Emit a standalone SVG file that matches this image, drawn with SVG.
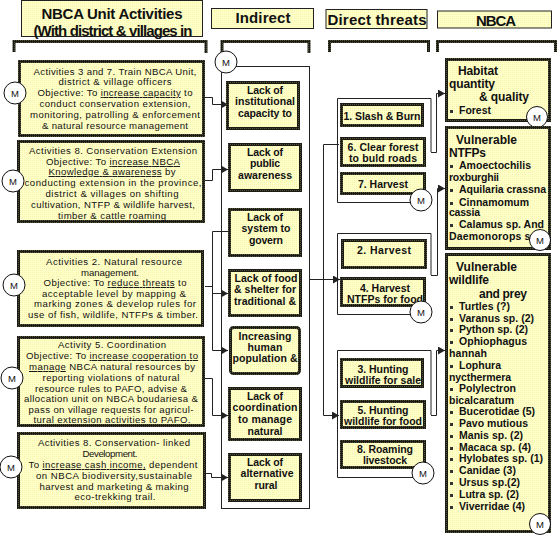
<svg xmlns="http://www.w3.org/2000/svg" width="557" height="541" viewBox="0 0 557 541">
<style>
text{font-family:"Liberation Sans",Arial,sans-serif;fill:#111}
.a{font-size:9.6px;text-anchor:middle}
.b{font-size:10.5px;font-weight:bold;text-anchor:middle}
.h{font-size:15px;font-weight:bold;text-anchor:middle}
.r{font-size:10.5px;font-weight:bold}
.t{font-size:12px;font-weight:bold}
.m{font-size:9.5px;text-anchor:middle}
.u{text-decoration:underline}
.box{fill:url(#y);stroke:url(#k);stroke-width:3}
.hd{fill:url(#y);stroke:#222;stroke-width:1}
.br{fill:none;stroke:url(#k);stroke-width:3}
.fr{fill:#fff;stroke:#222;stroke-width:1}
.c{fill:none;stroke:#222;stroke-width:1}
.cir{fill:#fff;stroke:#111;stroke-width:1}
.bl{fill:#333}
</style>
<defs>
<pattern id="y" width="2" height="2" patternUnits="userSpaceOnUse"><rect width="2" height="2" fill="#ffffc8"/><rect width="1" height="1" fill="#f8f4b0"/></pattern>
<pattern id="k" width="2" height="2" patternUnits="userSpaceOnUse"><rect width="2" height="2" fill="#1c1c14"/><rect width="1" height="1" fill="#55553c"/></pattern>
<marker id="ar" markerUnits="userSpaceOnUse" markerWidth="8" markerHeight="8" refX="7" refY="4" orient="auto"><path d="M0 0L7 4L0 8Z" fill="#222"/></marker>
</defs>
<rect width="557" height="541" fill="#fff"/>

<g id="headers">
<g id="h1"><rect class="hd" x="21.5" y="0.5" width="181" height="36"/><text class="h" x="112" y="19" textLength="141">NBCA Unit Activities</text><text class="h" x="113" y="36" textLength="159">(With district &amp; villages in</text></g>
<g id="h2"><rect class="hd" x="211.5" y="8.5" width="102" height="20"/><text class="h" x="263" y="23" textLength="55">Indirect</text></g>
<g id="h3"><rect class="hd" x="326" y="9.5" width="101" height="19"/><text class="h" x="377" y="25" textLength="99">Direct threats</text></g>
<g id="h4"><rect class="hd" x="437.5" y="11" width="114" height="17"/><text class="h" x="496" y="26" textLength="40">NBCA</text></g>
<path class="br" d="M14 52V41.500H206V53"/>
<path class="br" d="M222 53V41.500H309V53"/>
<path class="br" d="M329.500 52V41.500H428.500V52"/>
<path class="br" d="M437.500 52V41.500H555.500V52"/>
</g>

<g id="frames">
<rect class="fr" x="221.500" y="66.500" width="88" height="442"/>
<path class="fr" d="M431 152V98.500H337.500V202.500H431" style="fill:#fff"/>
<path class="fr" d="M431 275V233.500H337.500V314.500H431" style="fill:#fff"/>
<path class="fr" d="M431 415V350.500H337.500V477.500H431" style="fill:#fff"/>
</g>

<g id="connectors">
<path class="c" d="M205 97.500H212.500V104.500H228" marker-end="url(#ar)"/>
<path class="c" d="M205 180.500H212.500V169.500H228" marker-end="url(#ar)"/>
<path class="c" d="M205 286.500H212.500"/>
<path class="c" d="M228 231.500H212.500V350.500H228" marker-end="url(#ar)"/>
<path class="c" d="M212.500 293.500H228" marker-end="url(#ar)"/>
<path class="c" d="M205 378.500H212.500V415.500H228" marker-end="url(#ar)"/>
<path class="c" d="M205 473.500H211.500V477.500H228" marker-end="url(#ar)"/>
<path class="c" d="M310 279.500H340" marker-end="url(#ar)"/>
<path class="c" d="M339 144.500H323.500V415.500H339" marker-end="url(#ar)"/>
<path class="c" d="M431 152.500H436.500V93.500H445" marker-end="url(#ar)"/>
<path class="c" d="M431 275.500H437.500V188.500H445" marker-end="url(#ar)"/>
<path class="c" d="M431 415.500H436.500V350.500H445" marker-end="url(#ar)"/>
</g>

<g id="a1"><rect class="box" x="19.500" y="61.500" width="184" height="74"/>
<text class="a" x="115" y="74.500" textLength="163">Activities 3 and 7. Train NBCA Unit,</text>
<text class="a" x="115" y="85" textLength="113">district &amp; village officers</text>
<text class="a" x="115" y="96" textLength="155">Objective: To <tspan class="u">increase capacity</tspan> to</text>
<text class="a" x="115" y="107" textLength="151">conduct conservation extension,</text>
<text class="a" x="115" y="118" textLength="170">monitoring, patrolling &amp; enforcement</text>
<text class="a" x="115" y="129" textLength="146">&amp; natural resource management</text>
<circle class="cir" cx="15" cy="93" r="11"/><text class="m" x="15" y="97">M</text></g>

<g id="a2"><rect class="box" x="18.500" y="141.500" width="185" height="80"/>
<text class="a" x="113" y="154" textLength="168">Activities 8. Conservation Extension</text>
<text class="a" x="113" y="165" textLength="134">Objective: To <tspan class="u">increase NBCA</tspan></text>
<text class="a" x="112" y="175" textLength="127"><tspan class="u">Knowledge &amp; awareness</tspan> by</text>
<text class="a" x="113" y="186" textLength="177">conducting extension in the province,</text>
<text class="a" x="112" y="197" textLength="133">district &amp; villages on shifting</text>
<text class="a" x="113" y="208" textLength="164">cultivation, NTFP &amp; wildlife harvest,</text>
<text class="a" x="112" y="219" textLength="108">timber &amp; cattle roaming</text>
<circle class="cir" cx="13" cy="181" r="11"/><text class="m" x="13" y="185">M</text></g>

<g id="a3"><rect class="box" x="18.500" y="251.500" width="184" height="74"/>
<text class="a" x="114" y="265" textLength="136">Activities 2. Natural resource</text>
<text class="a" x="110" y="276" textLength="58">management.</text>
<text class="a" x="115" y="286" textLength="143">Objective: To <tspan class="u">reduce threats</tspan> to</text>
<text class="a" x="114" y="297" textLength="144">acceptable level by mapping &amp;</text>
<text class="a" x="115" y="307" textLength="162">marking zones &amp; develop rules for</text>
<text class="a" x="113" y="318" textLength="170">use of fish, wildlife, NTFPs &amp; timber.</text>
<circle class="cir" cx="14" cy="285" r="11"/><text class="m" x="14" y="289">M</text></g>

<g id="a4"><rect class="box" x="18.500" y="337.500" width="185" height="88"/>
<text class="a" x="112" y="348" textLength="108">Activity 5. Coordination</text>
<text class="a" x="112" y="359" textLength="172">Objective: To <tspan class="u">increase cooperation to</tspan></text>
<text class="a" x="112" y="370" textLength="166"><tspan class="u">manage</tspan> NBCA natural resources by</text>
<text class="a" x="111" y="381" textLength="137">reporting violations of natural</text>
<text class="a" x="111" y="391.500" textLength="152">resource rules to PAFO, advise &amp;</text>
<text class="a" x="111" y="402" textLength="174">allocation unit on NBCA boudariesa &amp;</text>
<text class="a" x="111" y="412.500" textLength="165">pass on village requests for agricul-</text>
<text class="a" x="112" y="423" textLength="157">tural extension activities to PAFO.</text>
<circle class="cir" cx="12" cy="378" r="11"/><text class="m" x="12" y="382">M</text></g>

<g id="a5"><rect class="box" x="18.500" y="433.500" width="186" height="74"/>
<text class="a" x="114" y="446" textLength="152">Activities 8. Conservation- linked</text>
<text class="a" x="110" y="457" textLength="55">Development.</text>
<text class="a" x="113" y="468" textLength="169">To <tspan class="u">increase cash income,</tspan> dependent</text>
<text class="a" x="114" y="479" textLength="156">on NBCA biodiversity,sustainable</text>
<text class="a" x="114" y="489.500" textLength="149">harvest and marketing &amp; making</text>
<text class="a" x="115" y="500" textLength="81">eco-trekking trail.</text>
<circle class="cir" cx="11" cy="467" r="11"/><text class="m" x="11" y="471">M</text></g>

<g id="indirect-m"><circle class="cir" cx="226" cy="62" r="11"/><text class="m" x="226" y="66">M</text></g>

<g id="i1"><rect class="box" x="227.500" y="82.500" width="71" height="46"/>
<text class="b" x="265" y="94" textLength="36">Lack of</text><text class="b" x="265" y="105" textLength="60">institutional</text><text class="b" x="265" y="117" textLength="54">capacity to</text></g>
<g id="i2"><rect class="box" x="229.500" y="144.500" width="71" height="46"/>
<text class="b" x="265" y="156" textLength="36">Lack of</text><text class="b" x="265" y="167" textLength="30">public</text><text class="b" x="265" y="179" textLength="54">awareness</text></g>
<g id="i3"><rect class="box" x="229.500" y="209.500" width="71" height="46"/>
<text class="b" x="265" y="221" textLength="36">Lack of</text><text class="b" x="266" y="232" textLength="49">system to</text><text class="b" x="266" y="244" textLength="34">govern</text></g>
<g id="i4"><rect class="box" x="229.500" y="270.500" width="71" height="45"/>
<text class="b" x="266" y="282" textLength="63">Lack of food</text><text class="b" x="265" y="293" textLength="62">&amp; shelter for</text><text class="b" x="265" y="305" textLength="62">traditional &amp;</text></g>
<g id="i5"><rect class="box" rx="3" x="230.500" y="327.500" width="69" height="46"/>
<text class="b" x="265" y="340" textLength="53">Increasing</text><text class="b" x="265" y="351" textLength="35">human</text><text class="b" x="265" y="362" textLength="65">population &amp;</text></g>
<g id="i6"><rect class="box" x="229.500" y="388.500" width="71" height="51"/>
<text class="b" x="265" y="400" textLength="36">Lack of</text><text class="b" x="265" y="411" textLength="65">coordination</text><text class="b" x="265" y="423" textLength="54">to manage</text><text class="b" x="265" y="435" textLength="35">natural</text></g>
<g id="i7"><rect class="box" x="229.500" y="454.500" width="71" height="46"/>
<text class="b" x="265" y="466" textLength="36">Lack of</text><text class="b" x="267" y="477" textLength="53">alternative</text><text class="b" x="266" y="489" textLength="23">rural</text></g>

<g id="d1"><rect class="box" x="341.500" y="104.500" width="81" height="21"/><text class="b" x="382" y="120" textLength="77">1. Slash &amp; Burn</text></g>
<g id="d6"><rect class="box" x="341.500" y="138.500" width="83" height="27"/><text class="b" x="383" y="151" textLength="71">6. Clear forest</text><text class="b" x="383" y="162" textLength="68">to buld roads</text></g>
<g id="d7"><rect class="box" x="341.500" y="173.500" width="83" height="20"/><text class="b" x="383" y="188" textLength="50">7. Harvest</text></g>
<g id="m1"><circle class="cir" cx="421" cy="200" r="11"/><text class="m" x="421" y="204">M</text></g>

<g id="d2"><rect class="box" x="342.500" y="240.500" width="83" height="27"/><text class="b" x="384" y="254" textLength="54">2. Harvest</text></g>
<g id="d4"><rect class="box" x="341.500" y="278.500" width="83" height="27"/><text class="b" x="385" y="292" textLength="50">4. Harvest</text><text class="b" x="385" y="303" textLength="76">NTFPs for food</text></g>
<g id="m2"><circle class="cir" cx="421" cy="312" r="11"/><text class="m" x="421" y="316">M</text></g>

<g id="d3"><rect class="box" x="341.500" y="359.500" width="81" height="27"/><text class="b" x="383" y="373" textLength="51">3. Hunting</text><text class="b" x="383" y="384" textLength="76">wildlife for sale</text></g>
<g id="d5"><rect class="box" x="341.500" y="401.500" width="83" height="26"/><text class="b" x="383" y="414" textLength="51">5. Hunting</text><text class="b" x="383" y="425" textLength="78">wildlife for food</text></g>
<g id="d8"><rect class="box" x="341.500" y="441.500" width="83" height="26"/><text class="b" x="385" y="453" textLength="56">8. Roaming</text><text class="b" x="385" y="464" textLength="44">livestock</text></g>
<g id="m3"><circle class="cir" cx="423" cy="473" r="11"/><text class="m" x="423" y="477">M</text></g>

<g id="t1"><rect class="box" x="446.500" y="59.500" width="103" height="61"/>
<text class="t" x="458" y="75" textLength="40">Habitat</text><text class="t" x="449" y="88" textLength="46">quantity</text><text class="t" x="479" y="101" textLength="50">&amp; quality</text>
<rect class="bl" x="450" y="110" width="3" height="3"/><text class="r" x="459" y="114" textLength="32">Forest</text>
<circle class="cir" cx="537" cy="117" r="10.500"/><text class="m" x="537" y="121">M</text></g>

<g id="t2"><rect class="box" x="446.500" y="127.500" width="103" height="121"/>
<text class="t" x="456" y="143.500" textLength="61">Vulnerable</text><text class="t" x="449" y="157" textLength="37">NTFPs</text>
<rect class="bl" x="450" y="165" width="3" height="3"/><text class="r" x="459" y="169" textLength="72">Amoectochilis</text>
<text class="r" x="449" y="181" textLength="50">roxburghii</text>
<rect class="bl" x="450" y="189" width="3" height="3"/><text class="r" x="459" y="193" textLength="87">Aquilaria crassna</text>
<rect class="bl" x="450" y="202" width="3" height="3"/><text class="r" x="459" y="206" textLength="70">Cinnamomum</text>
<text class="r" x="449" y="216" textLength="31">cassia</text>
<rect class="bl" x="450" y="224" width="3" height="3"/><text class="r" x="459" y="228" textLength="85">Calamus sp. And</text>
<text class="r" x="449" y="240" textLength="88">Daemonorops sp</text>
<circle class="cir" cx="540" cy="240" r="10.500"/><text class="m" x="540" y="244">M</text></g>

<g id="t3"><rect class="box" x="446.500" y="254.500" width="103" height="277"/>
<text class="t" x="456" y="271" textLength="61">Vulnerable</text><text class="t" x="449" y="284" textLength="40">wildlife</text><text class="t" x="479" y="298" textLength="48">and prey</text>
<rect class="bl" x="450" y="306" width="3" height="3"/><text class="r" x="459" y="310" textLength="51">Turtles (?)</text>
<rect class="bl" x="450" y="318" width="3" height="3"/><text class="r" x="459" y="322" textLength="75">Varanus sp. (2)</text>
<rect class="bl" x="450" y="329" width="3" height="3"/><text class="r" x="459" y="333" textLength="69">Python sp. (2)</text>
<rect class="bl" x="450" y="341" width="3" height="3"/><text class="r" x="459" y="345" textLength="68">Ophiophagus</text>
<text class="r" x="449" y="357" textLength="38">hannah</text>
<rect class="bl" x="450" y="365" width="3" height="3"/><text class="r" x="459" y="369" textLength="42">Lophura</text>
<text class="r" x="449" y="381" textLength="62">nycthermera</text>
<rect class="bl" x="450" y="388" width="3" height="3"/><text class="r" x="459" y="392" textLength="57">Polylectron</text>
<text class="r" x="449" y="404" textLength="65">bicalcaratum</text>
<rect class="bl" x="450" y="411" width="3" height="3"/><text class="r" x="459" y="415" textLength="76">Bucerotidae (5)</text>
<rect class="bl" x="450" y="423" width="3" height="3"/><text class="r" x="459" y="427" textLength="69">Pavo mutious</text>
<rect class="bl" x="450" y="435" width="3" height="3"/><text class="r" x="459" y="439" textLength="64">Manis sp. (2)</text>
<rect class="bl" x="450" y="447" width="3" height="3"/><text class="r" x="459" y="451" textLength="72">Macaca sp. (4)</text>
<rect class="bl" x="450" y="458" width="3" height="3"/><text class="r" x="459" y="462" textLength="84">Hylobates sp. (1)</text>
<rect class="bl" x="450" y="470" width="3" height="3"/><text class="r" x="459" y="474" textLength="57">Canidae (3)</text>
<rect class="bl" x="450" y="482" width="3" height="3"/><text class="r" x="459" y="486" textLength="61">Ursus sp.(2)</text>
<rect class="bl" x="450" y="494" width="3" height="3"/><text class="r" x="459" y="498" textLength="60">Lutra sp. (2)</text>
<rect class="bl" x="450" y="506" width="3" height="3"/><text class="r" x="459" y="510" textLength="66">Viverridae (4)</text>
<circle class="cir" cx="540" cy="524" r="10.500"/><text class="m" x="540" y="528">M</text></g>
</svg>
